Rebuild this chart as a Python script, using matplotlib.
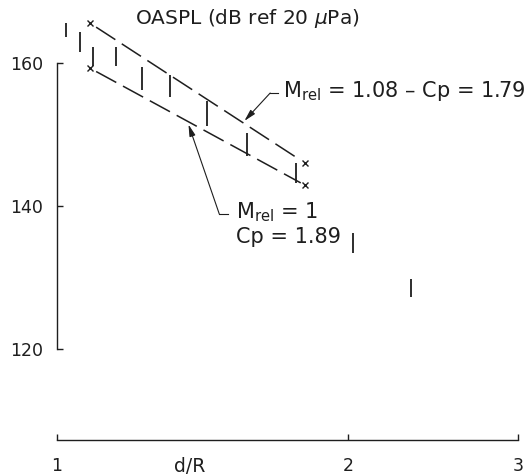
import numpy as np
import matplotlib
matplotlib.use('Agg')
import matplotlib.pyplot as plt

plt.rcParams['font.family'] = ['DejaVu Sans']
plt.rcParams['mathtext.fontset'] = 'dejavusans'

INK = '#1e1e1e'

# measured OASPL ranges (low / high) at each d/R
d_over_r = [1.022, 1.056, 1.089, 1.150, 1.224, 1.308, 1.431, 1.574, 1.768, 2.023, 2.323]
spl_low = [163.6, 161.5, 159.6, 159.6, 156.2, 155.2, 151.2, 147.0, 143.2, 133.4, 127.3]
spl_high = [165.6, 164.3, 162.2, 162.2, 159.4, 158.3, 154.7, 150.2, 146.0, 136.2, 129.8]

# predicted bounds (dashed lines) and their end markers
pred_x = [1.081, 1.806]
pred_upper = [165.6, 146.0]   # M_rel = 1.08, Cp = 1.79
pred_lower = [159.3, 142.9]   # M_rel = 1, Cp = 1.89

x_ticks = [1, 2, 3]
y_ticks = [120, 140, 160]

W, H = 527, 474
fig = plt.figure(figsize=(W / 100, H / 100), dpi=100)
ax = fig.add_axes([57 / W, 34 / H, 461 / W, 440 / H])
ax.set_xscale('log')
ax.set_xlim(1, 3)
ax.set_ylim(107.27, 168.81)

ax.vlines(d_over_r, spl_low, spl_high, color=INK, lw=1.3, clip_on=False)

# dashed prediction lines, slightly shortened from the markers
def shorten(xs, ys, f0, f1):
    lx = np.log10(xs)
    t = np.array([f0, 1 - f1])
    return 10 ** (lx[0] + t * (lx[1] - lx[0])), ys[0] + t * (ys[1] - ys[0])

for ys in (pred_upper, pred_lower):
    sx, sy = shorten(pred_x, ys, 0.03, 0.02)
    ax.plot(sx, sy, color=INK, lw=1.1, dashes=(15, 5), clip_on=False)
    ax.plot(pred_x, ys, ls='none', marker='x', ms=4, mew=1.0, color=INK, clip_on=False)

# leaders
arrow = dict(arrowstyle='-|>,head_length=0.7,head_width=0.18', color=INK, lw=0.8,
             shrinkA=0, shrinkB=0)
ax.annotate('', xy=(1.563, 151.9), xytext=(1.662, 155.8), arrowprops=arrow)
ax.plot([1.662, 1.694], [155.8, 155.8], color=INK, lw=0.8)
ax.text(1.712, 155.2, r'M$_{\rm rel}$ = 1.08 – Cp = 1.79', fontsize=15, color=INK,
        va='baseline', ha='left')

ax.annotate('', xy=(1.368, 151.4), xytext=(1.472, 138.9), arrowprops=arrow)
ax.plot([1.472, 1.504], [138.9, 138.9], color=INK, lw=0.8)
ax.text(1.533, 138.3, r'M$_{\rm rel}$ = 1', fontsize=15, color=INK,
        va='baseline', ha='left')
ax.text(1.533, 134.8, 'Cp = 1.89', fontsize=15, color=INK,
        va='baseline', ha='left')

for s in ('top', 'right'):
    ax.spines[s].set_visible(False)
ax.spines['left'].set_bounds(120, 160)
ax.spines['bottom'].set_bounds(1, 3)
for s in ('left', 'bottom'):
    ax.spines[s].set_color(INK)
    ax.spines[s].set_linewidth(1.0)

ax.set_xticks(x_ticks)
ax.set_xticklabels([str(v) for v in x_ticks])
ax.xaxis.set_minor_locator(matplotlib.ticker.NullLocator())
ax.set_yticks(y_ticks)
ax.tick_params(direction='in', length=4, width=1.0, color=INK, labelcolor=INK,
               labelsize=12.5)
ax.tick_params(axis='y', pad=10)
ax.tick_params(axis='x', pad=12)

fig.text(190 / W, 1 - 466 / H, 'd/R', fontsize=13.5, color=INK,
         ha='center', va='center')
ax.set_facecolor('none')

fig.text(135 / W, 1 - 18 / H, r'OASPL (dB ref 20 $\mu$Pa)', fontsize=14.5, color=INK,
         ha='left', va='center')

fig.savefig('out.png', dpi=100, facecolor='white')
